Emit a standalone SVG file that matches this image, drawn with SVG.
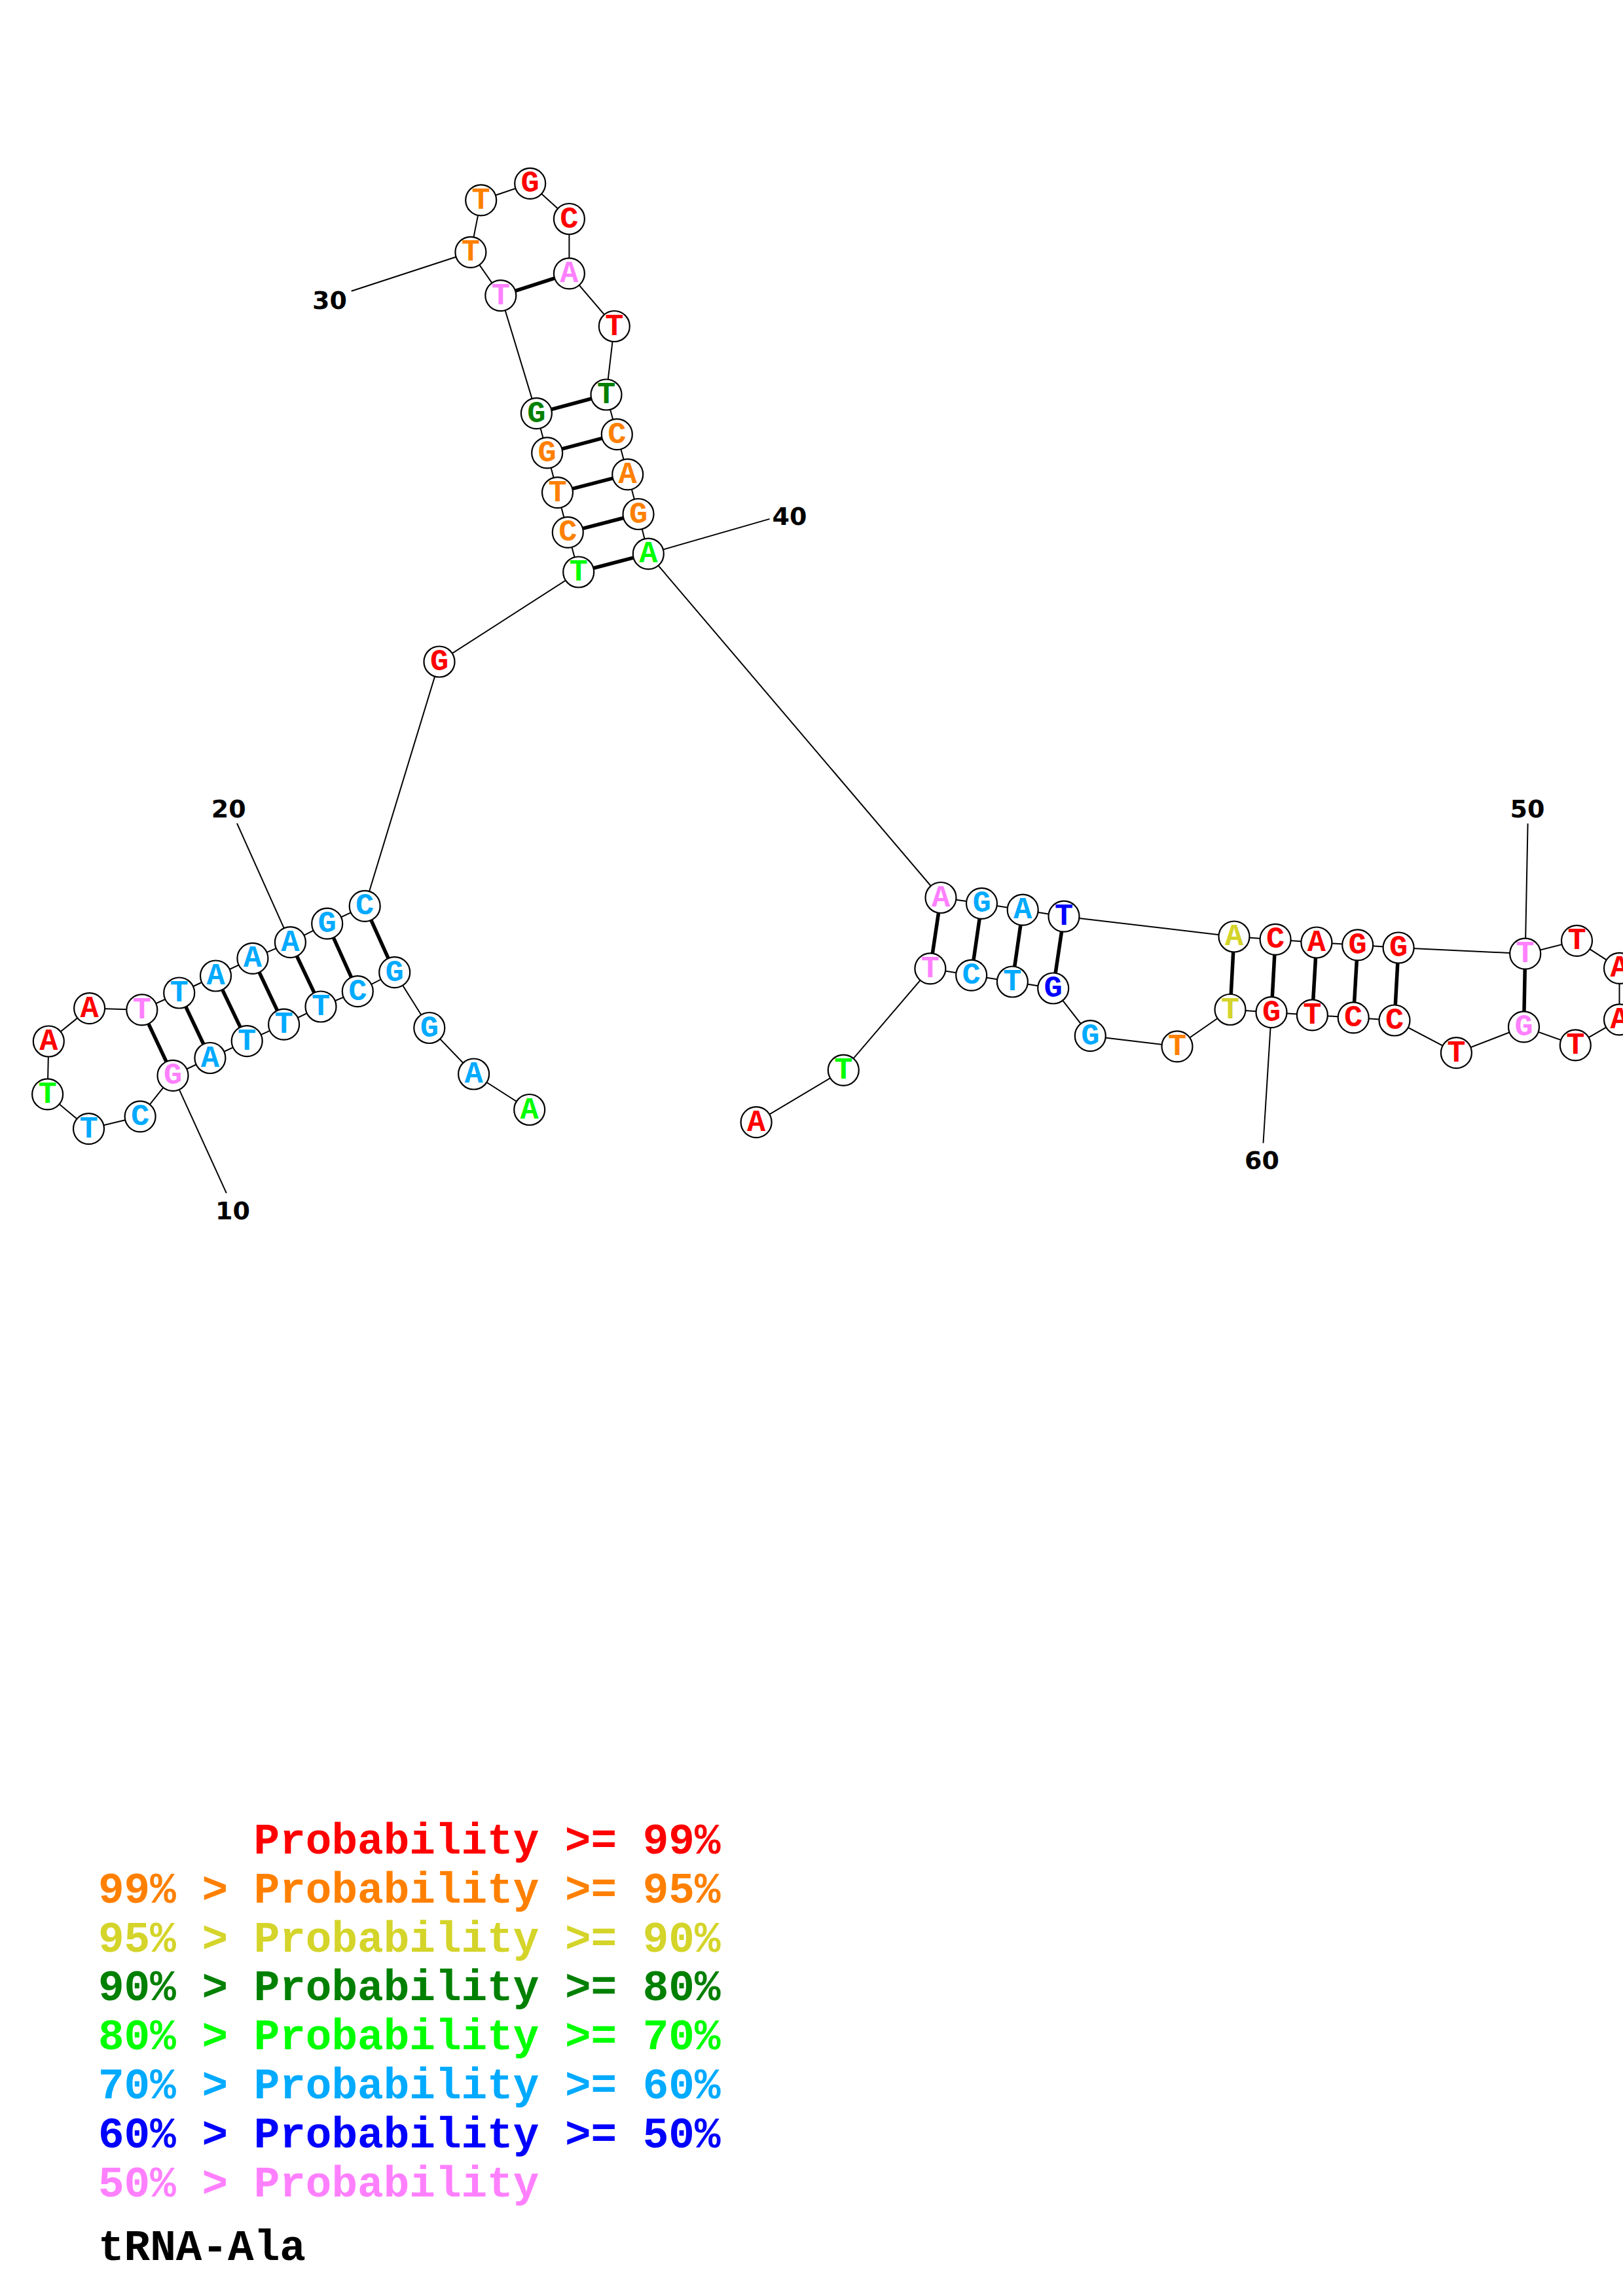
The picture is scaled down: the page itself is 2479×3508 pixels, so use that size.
<svg xmlns="http://www.w3.org/2000/svg" width="2479" height="3508" viewBox="0 0 2479 3508">
<style>
.bb{stroke:#000;stroke-width:2;fill:none}
.bp{stroke:#000;stroke-width:5.5;fill:none}
.lbl{stroke:#000;stroke-width:2;fill:none}
.nt circle{fill:#fff;stroke:#000;stroke-width:2.2}
.nt text{font-family:"Liberation Mono","Courier New",monospace;font-weight:bold;font-size:47px;text-anchor:middle}
.num{font-family:"DejaVu Sans",sans-serif;font-weight:bold;font-size:38px;text-anchor:middle;fill:#000}
.leg{font-family:"Liberation Mono","Courier New",monospace;font-weight:bold;font-size:66px}
.r{fill:#FF0000}.o{fill:#FF8000}.y{fill:#D4D42A}.dg{fill:#008000}.g{fill:#00FF00}.lb{fill:#00AAFF}.b{fill:#0000FF}.p{fill:#FF80FF}.k{fill:#000}
</style>
<rect width="2479" height="3508" fill="#fff"/>
<g id="connectors">
<g id="backbone" class="bb">
<polyline points="808.7,1695.5 723.6,1641 655.8,1570.5 602.7,1485.7 546.3,1514.7 490,1538 433.6,1565.2 377.2,1590.6 320.9,1616.5 264,1643.3 214.1,1705.8 135.5,1724.6 72.6,1671.9 74.3,1591 136.6,1540.6 216.8,1542.9 273.7,1517 329.5,1491 385.9,1464.3 443.4,1439.7 499.7,1411.2 557.2,1384.4 671,1011 883.7,874 867.3,813.3 851.5,752.6 835.7,691.9 819.4,631.6 764.8,451.6 718.9,385.3 734.7,305.9 809.7,280.3 869.4,334.5 869.4,417.8 938.3,498.5 926,603 942.3,663.7 958.7,724.8 975,785.5 990.3,846.2 1437,1371.5 1499.5,1380.3 1562.2,1390.2 1625,1400.2 1885,1431 1948.1,1435.4 2010.9,1440 2073.7,1443.8 2136.1,1448 2329.7,1457.2 2408.5,1437.3 2473.5,1479.4 2473.5,1557.8 2406.3,1596.9 2327.5,1568.9 2224.4,1608.7 2130,1559 2067.2,1554.8 2004.4,1550.9 1942,1546.7 1879,1542.5 1798,1598.8 1665.3,1582.7 1608.7,1510 1546.4,1500 1483.7,1490.1 1420.9,1479.8 1288.3,1635.1 1155.1,1714.7"/>
</g>
<g id="pairs" class="bp">
<line x1="602.7" y1="1485.7" x2="557.2" y2="1384.4"/>
<line x1="546.3" y1="1514.7" x2="499.7" y2="1411.2"/>
<line x1="490" y1="1538" x2="443.4" y2="1439.7"/>
<line x1="433.6" y1="1565.2" x2="385.9" y2="1464.3"/>
<line x1="377.2" y1="1590.6" x2="329.5" y2="1491"/>
<line x1="320.9" y1="1616.5" x2="273.7" y2="1517"/>
<line x1="264" y1="1643.3" x2="216.8" y2="1542.9"/>
<line x1="883.7" y1="874" x2="990.3" y2="846.2"/>
<line x1="867.3" y1="813.3" x2="975" y2="785.5"/>
<line x1="851.5" y1="752.6" x2="958.7" y2="724.8"/>
<line x1="835.7" y1="691.9" x2="942.3" y2="663.7"/>
<line x1="819.4" y1="631.6" x2="926" y2="603"/>
<line x1="764.8" y1="451.6" x2="869.4" y2="417.8"/>
<line x1="1437" y1="1371.5" x2="1420.9" y2="1479.8"/>
<line x1="1499.5" y1="1380.3" x2="1483.7" y2="1490.1"/>
<line x1="1562.2" y1="1390.2" x2="1546.4" y2="1500"/>
<line x1="1625" y1="1400.2" x2="1608.7" y2="1510"/>
<line x1="1885" y1="1431" x2="1879" y2="1542.5"/>
<line x1="1948.1" y1="1435.4" x2="1942" y2="1546.7"/>
<line x1="2010.9" y1="1440" x2="2004.4" y2="1550.9"/>
<line x1="2073.7" y1="1443.8" x2="2067.2" y2="1554.8"/>
<line x1="2136.1" y1="1448" x2="2130" y2="1559"/>
<line x1="2329.7" y1="1457.2" x2="2327.5" y2="1568.9"/>
</g>
<g id="ticks" class="lbl">
<line x1="264" y1="1643.3" x2="345.8" y2="1822.8"/>
<line x1="443.4" y1="1439.7" x2="362" y2="1258"/>
<line x1="718.9" y1="385.3" x2="536.7" y2="444.7"/>
<line x1="990.3" y1="846.2" x2="1175.5" y2="792.9"/>
<line x1="2329.7" y1="1457.2" x2="2333.6" y2="1258.2"/>
<line x1="1942" y1="1546.7" x2="1929.5" y2="1746.5"/>
</g>
</g>
<g id="numbers">
<text class="num" x="355.5" y="1863">10</text>
<text class="num" x="349.3" y="1249">20</text>
<text class="num" x="503.5" y="472">30</text>
<text class="num" x="1206" y="802">40</text>
<text class="num" x="2333" y="1249">50</text>
<text class="num" x="1927.5" y="1786">60</text>
</g>
<g id="nodes">
<g id="n1" class="nt"><circle cx="808.7" cy="1695.5" r="23.5"/><text class="g" x="808.7" y="1708.5">A</text></g>
<g id="n2" class="nt"><circle cx="723.6" cy="1641" r="23.5"/><text class="lb" x="723.6" y="1654">A</text></g>
<g id="n3" class="nt"><circle cx="655.8" cy="1570.5" r="23.5"/><text class="lb" x="655.8" y="1583.5">G</text></g>
<g id="n4" class="nt"><circle cx="602.7" cy="1485.7" r="23.5"/><text class="lb" x="602.7" y="1498.7">G</text></g>
<g id="n5" class="nt"><circle cx="546.3" cy="1514.7" r="23.5"/><text class="lb" x="546.3" y="1527.7">C</text></g>
<g id="n6" class="nt"><circle cx="490" cy="1538" r="23.5"/><text class="lb" x="490" y="1551">T</text></g>
<g id="n7" class="nt"><circle cx="433.6" cy="1565.2" r="23.5"/><text class="lb" x="433.6" y="1578.2">T</text></g>
<g id="n8" class="nt"><circle cx="377.2" cy="1590.6" r="23.5"/><text class="lb" x="377.2" y="1603.6">T</text></g>
<g id="n9" class="nt"><circle cx="320.9" cy="1616.5" r="23.5"/><text class="lb" x="320.9" y="1629.5">A</text></g>
<g id="n10" class="nt"><circle cx="264" cy="1643.3" r="23.5"/><text class="p" x="264" y="1656.3">G</text></g>
<g id="n11" class="nt"><circle cx="214.1" cy="1705.8" r="23.5"/><text class="lb" x="214.1" y="1718.8">C</text></g>
<g id="n12" class="nt"><circle cx="135.5" cy="1724.6" r="23.5"/><text class="lb" x="135.5" y="1737.6">T</text></g>
<g id="n13" class="nt"><circle cx="72.6" cy="1671.9" r="23.5"/><text class="g" x="72.6" y="1684.9">T</text></g>
<g id="n14" class="nt"><circle cx="74.3" cy="1591" r="23.5"/><text class="r" x="74.3" y="1604">A</text></g>
<g id="n15" class="nt"><circle cx="136.6" cy="1540.6" r="23.5"/><text class="r" x="136.6" y="1553.6">A</text></g>
<g id="n16" class="nt"><circle cx="216.8" cy="1542.9" r="23.5"/><text class="p" x="216.8" y="1555.9">T</text></g>
<g id="n17" class="nt"><circle cx="273.7" cy="1517" r="23.5"/><text class="lb" x="273.7" y="1530">T</text></g>
<g id="n18" class="nt"><circle cx="329.5" cy="1491" r="23.5"/><text class="lb" x="329.5" y="1504">A</text></g>
<g id="n19" class="nt"><circle cx="385.9" cy="1464.3" r="23.5"/><text class="lb" x="385.9" y="1477.3">A</text></g>
<g id="n20" class="nt"><circle cx="443.4" cy="1439.7" r="23.5"/><text class="lb" x="443.4" y="1452.7">A</text></g>
<g id="n21" class="nt"><circle cx="499.7" cy="1411.2" r="23.5"/><text class="lb" x="499.7" y="1424.2">G</text></g>
<g id="n22" class="nt"><circle cx="557.2" cy="1384.4" r="23.5"/><text class="lb" x="557.2" y="1397.4">C</text></g>
<g id="n23" class="nt"><circle cx="671" cy="1011" r="23.5"/><text class="r" x="671" y="1024">G</text></g>
<g id="n24" class="nt"><circle cx="883.7" cy="874" r="23.5"/><text class="g" x="883.7" y="887">T</text></g>
<g id="n25" class="nt"><circle cx="867.3" cy="813.3" r="23.5"/><text class="o" x="867.3" y="826.3">C</text></g>
<g id="n26" class="nt"><circle cx="851.5" cy="752.6" r="23.5"/><text class="o" x="851.5" y="765.6">T</text></g>
<g id="n27" class="nt"><circle cx="835.7" cy="691.9" r="23.5"/><text class="o" x="835.7" y="704.9">G</text></g>
<g id="n28" class="nt"><circle cx="819.4" cy="631.6" r="23.5"/><text class="dg" x="819.4" y="644.6">G</text></g>
<g id="n29" class="nt"><circle cx="764.8" cy="451.6" r="23.5"/><text class="p" x="764.8" y="464.6">T</text></g>
<g id="n30" class="nt"><circle cx="718.9" cy="385.3" r="23.5"/><text class="o" x="718.9" y="398.3">T</text></g>
<g id="n31" class="nt"><circle cx="734.7" cy="305.9" r="23.5"/><text class="o" x="734.7" y="318.9">T</text></g>
<g id="n32" class="nt"><circle cx="809.7" cy="280.3" r="23.5"/><text class="r" x="809.7" y="293.3">G</text></g>
<g id="n33" class="nt"><circle cx="869.4" cy="334.5" r="23.5"/><text class="r" x="869.4" y="347.5">C</text></g>
<g id="n34" class="nt"><circle cx="869.4" cy="417.8" r="23.5"/><text class="p" x="869.4" y="430.8">A</text></g>
<g id="n35" class="nt"><circle cx="938.3" cy="498.5" r="23.5"/><text class="r" x="938.3" y="511.5">T</text></g>
<g id="n36" class="nt"><circle cx="926" cy="603" r="23.5"/><text class="dg" x="926" y="616">T</text></g>
<g id="n37" class="nt"><circle cx="942.3" cy="663.7" r="23.5"/><text class="o" x="942.3" y="676.7">C</text></g>
<g id="n38" class="nt"><circle cx="958.7" cy="724.8" r="23.5"/><text class="o" x="958.7" y="737.8">A</text></g>
<g id="n39" class="nt"><circle cx="975" cy="785.5" r="23.5"/><text class="o" x="975" y="798.5">G</text></g>
<g id="n40" class="nt"><circle cx="990.3" cy="846.2" r="23.5"/><text class="g" x="990.3" y="859.2">A</text></g>
<g id="n41" class="nt"><circle cx="1437" cy="1371.5" r="23.5"/><text class="p" x="1437" y="1384.5">A</text></g>
<g id="n42" class="nt"><circle cx="1499.5" cy="1380.3" r="23.5"/><text class="lb" x="1499.5" y="1393.3">G</text></g>
<g id="n43" class="nt"><circle cx="1562.2" cy="1390.2" r="23.5"/><text class="lb" x="1562.2" y="1403.2">A</text></g>
<g id="n44" class="nt"><circle cx="1625" cy="1400.2" r="23.5"/><text class="b" x="1625" y="1413.2">T</text></g>
<g id="n45" class="nt"><circle cx="1885" cy="1431" r="23.5"/><text class="y" x="1885" y="1444">A</text></g>
<g id="n46" class="nt"><circle cx="1948.1" cy="1435.4" r="23.5"/><text class="r" x="1948.1" y="1448.4">C</text></g>
<g id="n47" class="nt"><circle cx="2010.9" cy="1440" r="23.5"/><text class="r" x="2010.9" y="1453">A</text></g>
<g id="n48" class="nt"><circle cx="2073.7" cy="1443.8" r="23.5"/><text class="r" x="2073.7" y="1456.8">G</text></g>
<g id="n49" class="nt"><circle cx="2136.1" cy="1448" r="23.5"/><text class="r" x="2136.1" y="1461">G</text></g>
<g id="n50" class="nt"><circle cx="2329.7" cy="1457.2" r="23.5"/><text class="p" x="2329.7" y="1470.2">T</text></g>
<g id="n51" class="nt"><circle cx="2408.5" cy="1437.3" r="23.5"/><text class="r" x="2408.5" y="1450.3">T</text></g>
<g id="n52" class="nt"><circle cx="2473.5" cy="1479.4" r="23.5"/><text class="r" x="2473.5" y="1492.4">A</text></g>
<g id="n53" class="nt"><circle cx="2473.5" cy="1557.8" r="23.5"/><text class="r" x="2473.5" y="1570.8">A</text></g>
<g id="n54" class="nt"><circle cx="2406.3" cy="1596.9" r="23.5"/><text class="r" x="2406.3" y="1609.9">T</text></g>
<g id="n55" class="nt"><circle cx="2327.5" cy="1568.9" r="23.5"/><text class="p" x="2327.5" y="1581.9">G</text></g>
<g id="n56" class="nt"><circle cx="2224.4" cy="1608.7" r="23.5"/><text class="r" x="2224.4" y="1621.7">T</text></g>
<g id="n57" class="nt"><circle cx="2130" cy="1559" r="23.5"/><text class="r" x="2130" y="1572">C</text></g>
<g id="n58" class="nt"><circle cx="2067.2" cy="1554.8" r="23.5"/><text class="r" x="2067.2" y="1567.8">C</text></g>
<g id="n59" class="nt"><circle cx="2004.4" cy="1550.9" r="23.5"/><text class="r" x="2004.4" y="1563.9">T</text></g>
<g id="n60" class="nt"><circle cx="1942" cy="1546.7" r="23.5"/><text class="r" x="1942" y="1559.7">G</text></g>
<g id="n61" class="nt"><circle cx="1879" cy="1542.5" r="23.5"/><text class="y" x="1879" y="1555.5">T</text></g>
<g id="n62" class="nt"><circle cx="1798" cy="1598.8" r="23.5"/><text class="o" x="1798" y="1611.8">T</text></g>
<g id="n63" class="nt"><circle cx="1665.3" cy="1582.7" r="23.5"/><text class="lb" x="1665.3" y="1595.7">G</text></g>
<g id="n64" class="nt"><circle cx="1608.7" cy="1510" r="23.5"/><text class="b" x="1608.7" y="1523">G</text></g>
<g id="n65" class="nt"><circle cx="1546.4" cy="1500" r="23.5"/><text class="lb" x="1546.4" y="1513">T</text></g>
<g id="n66" class="nt"><circle cx="1483.7" cy="1490.1" r="23.5"/><text class="lb" x="1483.7" y="1503.1">C</text></g>
<g id="n67" class="nt"><circle cx="1420.9" cy="1479.8" r="23.5"/><text class="p" x="1420.9" y="1492.8">T</text></g>
<g id="n68" class="nt"><circle cx="1288.3" cy="1635.1" r="23.5"/><text class="g" x="1288.3" y="1648.1">T</text></g>
<g id="n69" class="nt"><circle cx="1155.1" cy="1714.7" r="23.5"/><text class="r" x="1155.1" y="1727.7">A</text></g>
</g>
<g id="legend" class="leg">
<text class="r" x="387.6" y="2832">Probability &gt;= 99%</text>
<text class="o" x="150" y="2907">99% &gt; Probability &gt;= 95%</text>
<text class="y" x="150" y="2982">95% &gt; Probability &gt;= 90%</text>
<text class="dg" x="150" y="3056">90% &gt; Probability &gt;= 80%</text>
<text class="g" x="150" y="3131">80% &gt; Probability &gt;= 70%</text>
<text class="lb" x="150" y="3206">70% &gt; Probability &gt;= 60%</text>
<text class="b" x="150" y="3281">60% &gt; Probability &gt;= 50%</text>
<text class="p" x="150" y="3356">50% &gt; Probability</text>
<text class="k" x="150" y="3453">tRNA-Ala</text>
</g>
</svg>
